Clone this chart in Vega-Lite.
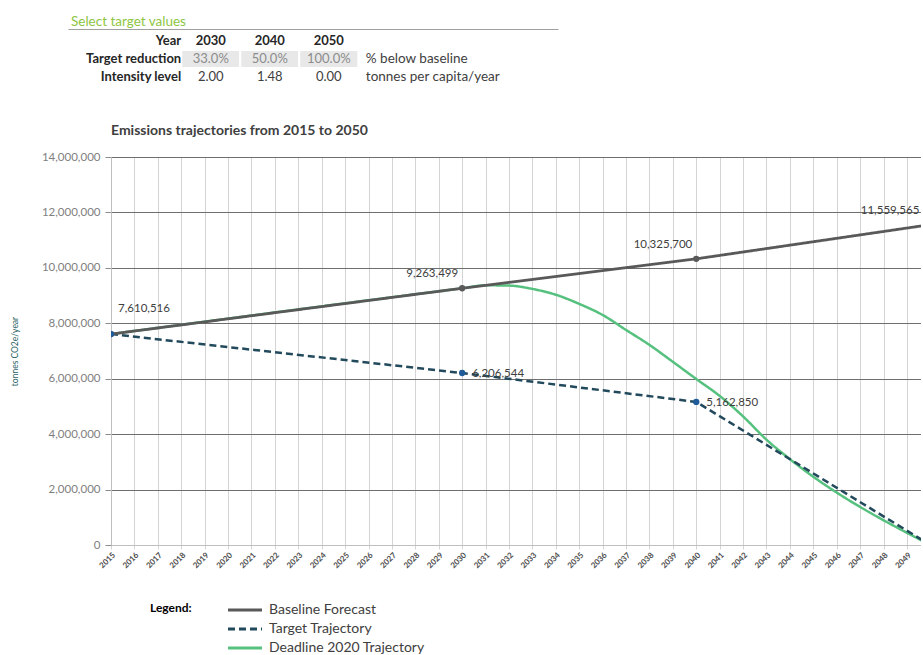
{
  "$schema": "https://vega.github.io/schema/vega-lite/v6.json",
  "background": "white",
  "padding": {"left": 10, "top": 14, "right": 0, "bottom": 0},
  "config": {"font": "Lato", "view": {"stroke": null}},
  "spacing": 35,
  "datasets": {
    "table": [
      {"row": "Year", "col": "label", "text": "Year"},
      {"row": "Year", "col": "2030", "text": "2030"},
      {"row": "Year", "col": "2040", "text": "2040"},
      {"row": "Year", "col": "2050", "text": "2050"},
      {"row": "Target reduction", "col": "label", "text": "Target reduction"},
      {"row": "Target reduction", "col": "2030", "text": "33.0%"},
      {"row": "Target reduction", "col": "2040", "text": "50.0%"},
      {"row": "Target reduction", "col": "2050", "text": "100.0%"},
      {"row": "Target reduction", "col": "unit", "text": "% below baseline"},
      {"row": "Intensity level", "col": "label", "text": "Intensity level"},
      {"row": "Intensity level", "col": "2030", "text": "2.00"},
      {"row": "Intensity level", "col": "2040", "text": "1.48"},
      {"row": "Intensity level", "col": "2050", "text": "0.00"},
      {"row": "Intensity level", "col": "unit", "text": "tonnes per capita/year"}
    ],
    "trajectories": [
      {"series": "Baseline Forecast", "year": 2015, "value": 7610516},
      {"series": "Baseline Forecast", "year": 2030, "value": 9263499},
      {"series": "Baseline Forecast", "year": 2040, "value": 10325700},
      {"series": "Baseline Forecast", "year": 2050, "value": 11559565},
      {"series": "Target Trajectory", "year": 2015, "value": 7610516},
      {"series": "Target Trajectory", "year": 2030, "value": 6206544},
      {"series": "Target Trajectory", "year": 2040, "value": 5162850},
      {"series": "Target Trajectory", "year": 2050, "value": 0},
      {"series": "Deadline 2020 Trajectory", "year": 2015, "value": 7610516},
      {"series": "Deadline 2020 Trajectory", "year": 2030, "value": 9263499},
      {"series": "Deadline 2020 Trajectory", "year": 2031, "value": 9370000},
      {"series": "Deadline 2020 Trajectory", "year": 2032, "value": 9360000},
      {"series": "Deadline 2020 Trajectory", "year": 2033, "value": 9240000},
      {"series": "Deadline 2020 Trajectory", "year": 2034, "value": 9030000},
      {"series": "Deadline 2020 Trajectory", "year": 2035, "value": 8700000},
      {"series": "Deadline 2020 Trajectory", "year": 2036, "value": 8300000},
      {"series": "Deadline 2020 Trajectory", "year": 2037, "value": 7760000},
      {"series": "Deadline 2020 Trajectory", "year": 2038, "value": 7220000},
      {"series": "Deadline 2020 Trajectory", "year": 2039, "value": 6610000},
      {"series": "Deadline 2020 Trajectory", "year": 2040, "value": 5990000},
      {"series": "Deadline 2020 Trajectory", "year": 2041, "value": 5380000},
      {"series": "Deadline 2020 Trajectory", "year": 2042, "value": 4640000},
      {"series": "Deadline 2020 Trajectory", "year": 2043, "value": 3800000},
      {"series": "Deadline 2020 Trajectory", "year": 2044, "value": 3100000},
      {"series": "Deadline 2020 Trajectory", "year": 2050, "value": 0}
    ],
    "points": [
      {"series": "Baseline Forecast", "year": 2015, "value": 7610516},
      {"series": "Baseline Forecast", "year": 2030, "value": 9263499},
      {"series": "Baseline Forecast", "year": 2040, "value": 10325700},
      {"series": "Baseline Forecast", "year": 2050, "value": 11559565},
      {"series": "Target Trajectory", "year": 2015, "value": 7610516},
      {"series": "Target Trajectory", "year": 2030, "value": 6206544},
      {"series": "Target Trajectory", "year": 2040, "value": 5162850}
    ]
  },
  "vconcat": [
    {
      "width": 447,
      "height": 60,
      "data": {"name": "table"},
      "title": {"text": "Select target values", "anchor": "start", "frame": "group", "dx": -40, "color": "#8dc641", "fontSize": 13.5, "fontWeight": "normal", "offset": 1},
      "encoding": {
        "x": {
          "field": "col", "type": "nominal",
          "scale": {"type": "band", "domain": ["label", "2030", "2040", "2050", "unit", "pad1", "pad2"], "range": [-43, 447], "paddingInner": 0, "paddingOuter": 0.65, "align": 0.706},
          "axis": {"orient": "top", "title": null, "labels": false, "ticks": false, "grid": false, "domain": true, "domainColor": "#a0a0a0", "domainWidth": 1}
        },
        "y": {
          "field": "row", "type": "nominal",
          "scale": {"type": "band", "domain": ["Year", "Target reduction", "Intensity level"], "paddingInner": 0, "paddingOuter": 0.167},
          "axis": null
        }
      },
      "layer": [
        {
          "transform": [{"filter": "datum.row === 'Target reduction' && datum.col !== 'label' && datum.col !== 'unit'"}],
          "mark": {"type": "rect", "fill": "#e8e8e8", "stroke": "white", "strokeWidth": 2}
        },
        {
          "transform": [{"filter": "datum.col === 'label'"}],
          "mark": {"type": "text", "align": "right", "dx": 29.5, "fontWeight": "bold", "fontSize": 13, "color": "#262626"},
          "encoding": {"text": {"field": "text"}}
        },
        {
          "transform": [{"filter": "datum.row === 'Year' && datum.col !== 'label'"}],
          "mark": {"type": "text", "align": "center", "fontWeight": "bold", "fontSize": 13, "color": "#262626"},
          "encoding": {"text": {"field": "text"}}
        },
        {
          "transform": [{"filter": "datum.row !== 'Year' && datum.col !== 'label' && datum.col !== 'unit'"}],
          "mark": {"type": "text", "align": "center", "fontSize": 13},
          "encoding": {
            "text": {"field": "text"},
            "color": {"condition": {"test": "datum.row === 'Target reduction'", "value": "#8c8c8c"}, "value": "#404040"}
          }
        },
        {
          "transform": [{"filter": "datum.col === 'unit'"}],
          "mark": {"type": "text", "align": "left", "dx": -22, "fontSize": 13.5, "color": "#404040"},
          "encoding": {"text": {"field": "text"}}
        }
      ]
    },
    {
      "width": 810,
      "height": 388,
      "title": {"text": "Emissions trajectories from 2015 to 2050", "anchor": "start", "frame": "group", "fontSize": 14, "fontWeight": "bold", "color": "#404040", "offset": 13},
      "encoding": {
        "x": {
          "field": "year", "type": "quantitative",
          "scale": {"domain": [2015, 2049.6], "nice": false, "zero": false},
          "axis": {
            "values": [2015, 2016, 2017, 2018, 2019, 2020, 2021, 2022, 2023, 2024, 2025, 2026, 2027, 2028, 2029, 2030, 2031, 2032, 2033, 2034, 2035, 2036, 2037, 2038, 2039, 2040, 2041, 2042, 2043, 2044, 2045, 2046, 2047, 2048, 2049],
            "format": "d", "labelAngle": -45, "labelFontSize": 8, "labelFontWeight": "bold", "labelColor": "#4d4d4d",
            "labelOverlap": false, "labelPadding": 2, "grid": true, "gridColor": "#d4d4d4", "domainColor": "#bfbfbf",
            "tickColor": "#d4d4d4", "tickSize": 4, "title": null
          }
        },
        "y": {
          "field": "value", "type": "quantitative",
          "scale": {"domain": [0, 14000000], "nice": false},
          "axis": {
            "values": [0, 2000000, 4000000, 6000000, 8000000, 10000000, 12000000, 14000000],
            "format": ",d", "labelFontSize": 11.5, "labelColor": "#7f7f7f", "labelPadding": 5,
            "grid": true, "gridColor": "#6e6e6e", "domainColor": "#bfbfbf", "tickColor": "#8c8c8c", "tickSize": 6,
            "title": "tonnes CO2e/year", "titleFontSize": 8.5, "titleColor": "#2a6464", "titleFontWeight": "normal", "titlePadding": 22
          }
        }
      },
      "layer": [
        {
          "data": {"name": "trajectories"},
          "transform": [{"filter": "datum.series === 'Deadline 2020 Trajectory'"}],
          "mark": {"type": "line", "strokeWidth": 2.5, "interpolate": "monotone", "clip": true},
          "encoding": {
            "color": {"field": "series", "type": "nominal", "scale": {"domain": ["Baseline Forecast", "Target Trajectory", "Deadline 2020 Trajectory"], "range": ["#595959", "#22495c", "#56c17f"]},
              "legend": {"orient": "none", "legendX": 39, "legendY": 574, "title": "Legend:", "titleOrient": "left", "titleAnchor": "start", "titleBaseline": "top", "titleFontSize": 12, "titleFontWeight": "bold", "titleColor": "#000000", "titlePadding": 46, "labelFontSize": 14, "labelColor": "#404040", "labelOffset": 17, "symbolType": "M-3.4,0H3.4", "symbolSize": 100, "symbolStrokeWidth": 3, "rowPadding": 5}},
            "strokeDash": {"field": "series", "type": "nominal", "scale": {"domain": ["Baseline Forecast", "Target Trajectory", "Deadline 2020 Trajectory"], "range": [[1, 0], [7, 4], [1, 0]]}}
          }
        },
        {
          "data": {"name": "trajectories"},
          "transform": [{"filter": "datum.series === 'Target Trajectory'"}],
          "mark": {"type": "line", "strokeWidth": 2.5, "clip": true},
          "encoding": {
            "color": {"field": "series", "type": "nominal"},
            "strokeDash": {"field": "series", "type": "nominal"}
          }
        },
        {
          "data": {"name": "trajectories"},
          "transform": [{"filter": "datum.series === 'Baseline Forecast'"}],
          "mark": {"type": "line", "strokeWidth": 2.8, "clip": true},
          "encoding": {
            "color": {"field": "series", "type": "nominal"},
            "strokeDash": {"field": "series", "type": "nominal"}
          }
        },
        {
          "data": {"name": "points"},
          "mark": {"type": "circle", "size": 40, "opacity": 1, "clip": true},
          "encoding": {
            "color": {"condition": {"test": "datum.series === 'Target Trajectory'", "value": "#1f5c99"}, "value": "#595959"}
          }
        },
        {
          "data": {"name": "points"},
          "transform": [{"filter": "datum.series === 'Baseline Forecast' && datum.year === 2015"}],
          "mark": {"type": "text", "align": "center", "dx": 33, "dy": -25, "fontSize": 11.5, "color": "#404040"},
          "encoding": {"text": {"field": "value", "type": "quantitative", "format": ","}}
        },
        {
          "data": {"name": "points"},
          "transform": [{"filter": "datum.series === 'Baseline Forecast' && datum.year > 2015 && datum.year < 2050"}],
          "mark": {"type": "text", "align": "right", "dx": -4, "dy": -14, "fontSize": 11.5, "color": "#404040"},
          "encoding": {"text": {"field": "value", "type": "quantitative", "format": ","}}
        },
        {
          "data": {"name": "points"},
          "transform": [{"filter": "datum.series === 'Baseline Forecast' && datum.year === 2050"}],
          "mark": {"type": "text", "align": "right", "dx": -11, "dy": -14, "fontSize": 11.5, "color": "#404040"},
          "encoding": {"text": {"field": "value", "type": "quantitative", "format": ","}}
        },
        {
          "data": {"name": "points"},
          "transform": [{"filter": "datum.series === 'Target Trajectory' && datum.year > 2015"}],
          "mark": {"type": "text", "align": "left", "dx": 10, "dy": 1, "fontSize": 11.5, "color": "#404040"},
          "encoding": {"text": {"field": "value", "type": "quantitative", "format": ","}}
        }
      ]
    }
  ]
}
